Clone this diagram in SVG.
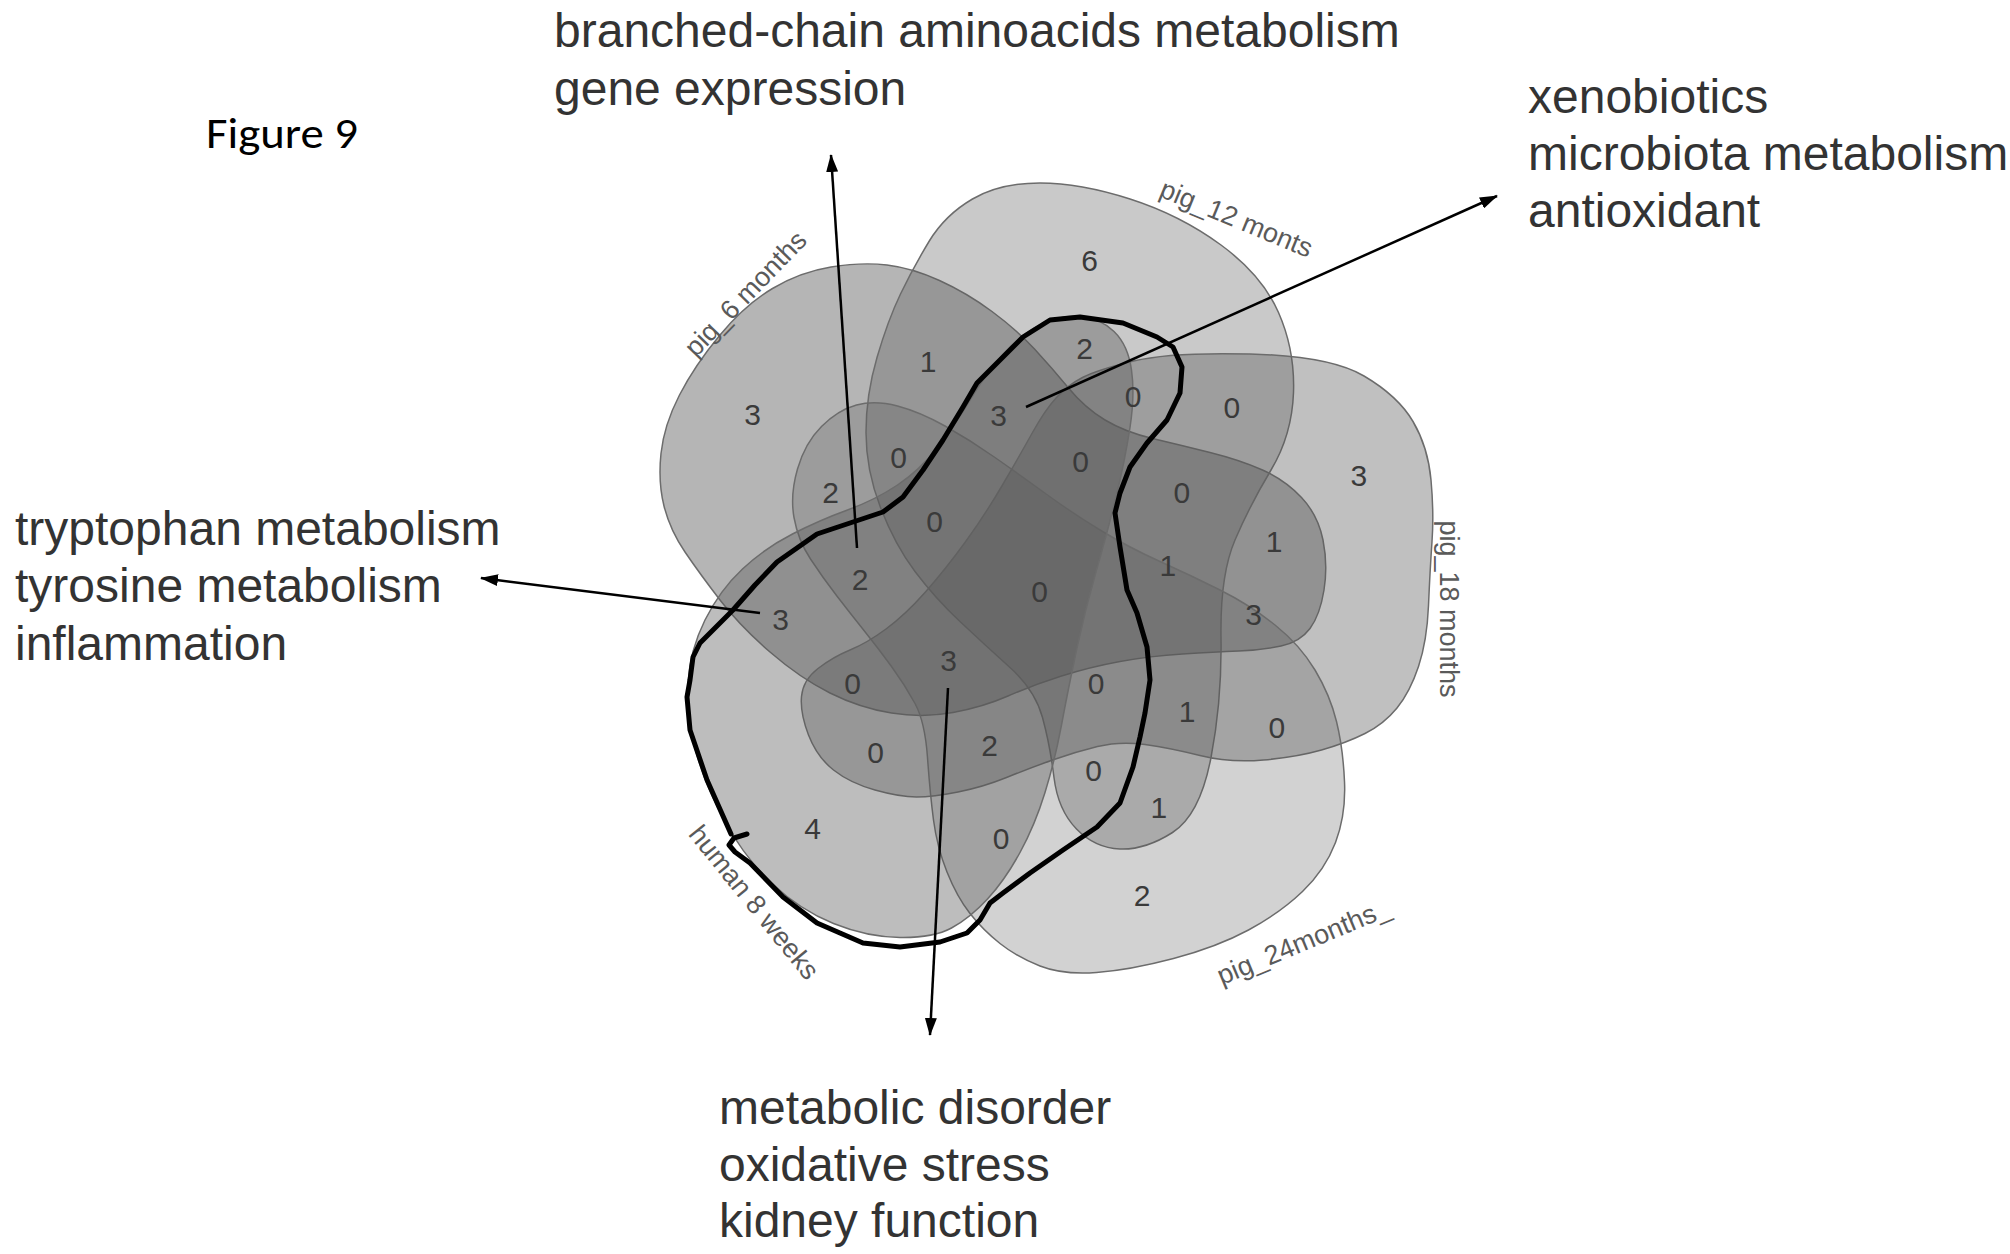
<svg xmlns="http://www.w3.org/2000/svg" width="2010" height="1254" viewBox="0 0 2010 1254">
<defs>
<style>
.set{fill:#5a5a5a;stroke:#6c6c6c;stroke-width:1.5}
.num{font-family:"Liberation Sans",Arial,sans-serif;font-size:30px;fill:#3a3a3a;text-anchor:middle}
.slab{font-family:"Liberation Sans",Arial,sans-serif;font-size:27px;fill:#5a5a5a;text-anchor:middle}
.big{font-family:"Liberation Sans",Arial,sans-serif;font-size:48px;fill:#333}
.conn{stroke:#000;stroke-width:2.5;fill:none;marker-end:url(#ah)}
</style>
<marker id="ah" markerUnits="userSpaceOnUse" markerWidth="18" markerHeight="12" viewBox="0 0 18 12" refX="17" refY="6" orient="auto"><path d="M0,0 L18,6 L0,12 z" fill="#000"/></marker>
</defs>
<rect width="2010" height="1254" fill="#fff"/>
<text x="206" y="148" font-family="Carlito,'Liberation Sans',Arial,sans-serif" font-size="44" fill="#000" textLength="152" lengthAdjust="spacingAndGlyphs">Figure 9</text>
<g id="venn-sets">
<g id="set-pig6"><path class="set" fill-opacity="0.45" d="M664,506 Q658,482 661,453.5 Q664,425 679.5,395 Q695,365 720,335 Q745,305 772.5,288.5 Q800,272 831,267 Q862,262 887,265 Q912,268 939.5,280.5 Q967,293 992,311.5 Q1017,330 1034.5,349 Q1052,368 1068.5,388 Q1085,408 1105,420 Q1125,432 1152.5,438.5 Q1180,445 1210,452.5 Q1240,460 1262.5,470 Q1285,480 1301.5,497.5 Q1318,515 1323,540 Q1328,565 1324,590 Q1320,615 1310,628.5 Q1300,642 1281,646 Q1262,650 1238.5,651 Q1215,652 1182.5,654 Q1150,656 1120,661.5 Q1090,667 1061.5,676 Q1033,685 1008,696 Q983,707 953,712.5 Q923,718 891.5,713 Q860,708 830,693 Q800,678 770,652 Q740,626 720,600 Q700,574 685,552 Q670,530 664,506 Z"/></g>
<g id="set-pig12"><path class="set" fill-opacity="0.33" d="M900.5,294 Q913,268 929,241.5 Q945,215 972.5,199 Q1000,183 1040,183 Q1080,183 1130,199 Q1180,215 1221,245 Q1262,275 1278.5,312.5 Q1295,350 1293.5,392.5 Q1292,435 1271,470 Q1250,505 1235,540 Q1220,575 1221,637.5 Q1222,700 1211,757.5 Q1200,815 1172.5,832.5 Q1145,850 1120,849 Q1095,848 1076.5,829 Q1058,810 1054,777.5 Q1050,745 1042.5,717.5 Q1035,690 1010,667.5 Q985,645 960,621.5 Q935,598 915,571.5 Q895,545 880.5,507.5 Q866,470 866,432.5 Q866,395 877,357.5 Q888,320 900.5,294 Z"/></g>
<g id="set-pig18"><path class="set" fill-opacity="0.38" d="M1082.5,377.5 Q1097,370 1133.5,361 Q1170,352 1250,354 Q1330,356 1364,376 Q1398,396 1413,421.5 Q1428,447 1431,480 Q1434,513 1432,541.5 Q1430,570 1428.5,605.5 Q1427,641 1418.5,666.5 Q1410,692 1397,708 Q1384,724 1365,733.5 Q1346,743 1321.5,750 Q1297,757 1263.5,760 Q1230,763 1200,755.5 Q1170,748 1145,744.5 Q1120,741 1097.5,746.5 Q1075,752 1052.5,760 Q1030,768 1006.5,777.5 Q983,787 958,792 Q933,797 916.5,797 Q900,797 875,790 Q850,783 833.5,770 Q817,757 808.5,735 Q800,713 801.5,696.5 Q803,680 818,668.5 Q833,657 850,650 Q867,643 886,629 Q905,615 925,592.5 Q945,570 965,542.5 Q985,515 1002.5,485 Q1020,455 1032.5,432.5 Q1045,410 1056.5,397.5 Q1068,385 1082.5,377.5 Z"/></g>
<g id="set-pig24"><path class="set" fill-opacity="0.27" d="M1336.5,721.5 Q1343,748 1344.5,781.5 Q1346,815 1335.5,842.5 Q1325,870 1302.5,891.5 Q1280,913 1248.5,930 Q1217,947 1173.5,958.5 Q1130,970 1096.5,972.5 Q1063,975 1040,966 Q1017,957 1000,943.5 Q983,930 970,913.5 Q957,897 947,872 Q937,847 933.5,820 Q930,793 927.5,757.5 Q925,722 915,703.5 Q905,685 891.5,666.5 Q878,648 864,630.5 Q850,613 836.5,595.5 Q823,578 810.5,559 Q798,540 794,517.5 Q790,495 797.5,469 Q805,443 821.5,426.5 Q838,410 856.5,405 Q875,400 897.5,406 Q920,412 945,426 Q970,440 995,457.5 Q1020,475 1047.5,495 Q1075,515 1102.5,531.5 Q1130,548 1160,561.5 Q1190,575 1220,590 Q1250,605 1275,625 Q1300,645 1315,670 Q1330,695 1336.5,721.5 Z"/></g>
<g id="set-human8"><path class="set" fill-opacity="0.4" d="M705,620 Q690,650 688,682.5 Q686,715 695.5,750 Q705,785 725,821.5 Q745,858 772.5,884 Q800,910 833.5,923.5 Q867,937 900,937.5 Q933,938 951.5,928 Q970,918 987.5,899 Q1005,880 1020,852.5 Q1035,825 1045,792.5 Q1055,760 1061.5,725 Q1068,690 1076.5,650 Q1085,610 1096.5,570 Q1108,530 1116.5,495 Q1125,460 1130,427.5 Q1135,395 1131.5,370 Q1128,345 1114,331.5 Q1100,318 1080,316.5 Q1060,315 1040,325 Q1020,335 1002.5,355 Q985,375 970,400 Q955,425 937.5,447.5 Q920,470 897.5,485 Q875,500 847.5,510 Q820,520 792.5,534 Q765,548 742.5,569 Q720,590 705,620 Z"/></g>
</g>
<g id="set-labels">
<text class="slab" transform="translate(752,300) rotate(-46)">pig_6 months</text>
<text class="slab" transform="translate(1233,227) rotate(22.4)">pig_12 monts</text>
<text class="slab" transform="translate(1440,609) rotate(90)">pig_18 months</text>
<text class="slab" transform="translate(1307,950) rotate(-22.5)">pig_24months_</text>
<text class="slab" transform="translate(747,908) rotate(51)">human 8 weeks</text>
</g>
<g id="counts">
<text class="num" x="752.5" y="424.7">3</text>
<text class="num" x="1089.6" y="270.9">6</text>
<text class="num" x="1358.8" y="486.3">3</text>
<text class="num" x="1142.2" y="905.5">2</text>
<text class="num" x="812.7" y="838.8">4</text>
<text class="num" x="928.1" y="372.2">1</text>
<text class="num" x="1084.5" y="359.4">2</text>
<text class="num" x="1133.2" y="406.8">0</text>
<text class="num" x="1231.9" y="418.3">0</text>
<text class="num" x="998.6" y="426">3</text>
<text class="num" x="898.6" y="468.3">0</text>
<text class="num" x="830.7" y="502.9">2</text>
<text class="num" x="1080.7" y="472.2">0</text>
<text class="num" x="1181.9" y="502.9">0</text>
<text class="num" x="934.5" y="532.4">0</text>
<text class="num" x="1274.2" y="551.7">1</text>
<text class="num" x="1167.8" y="576">1</text>
<text class="num" x="860.2" y="590.1">2</text>
<text class="num" x="1039.6" y="601.7">0</text>
<text class="num" x="780.7" y="629.9">3</text>
<text class="num" x="1253.7" y="624.7">3</text>
<text class="num" x="948.6" y="670.9">3</text>
<text class="num" x="852.5" y="694">0</text>
<text class="num" x="1096" y="694">0</text>
<text class="num" x="1187" y="722.2">1</text>
<text class="num" x="1276.8" y="737.5">0</text>
<text class="num" x="875.5" y="763.2">0</text>
<text class="num" x="989.6" y="755.5">2</text>
<text class="num" x="1093.5" y="781.1">0</text>
<text class="num" x="1158.8" y="818.3">1</text>
<text class="num" x="1001.2" y="849.1">0</text>
</g>
<g id="highlight">
<path fill="none" stroke="#000" stroke-width="5" stroke-linejoin="round" stroke-linecap="round" d="M731,834 L707,780 L690,730 L687,697 L690,680 L693,657 L700,643 L733,610 L755,585 L777,562 L797,548 L817,534 L850,523 L883,512 L903,497 L923,470 L943,440 L963,407 L977,383 L1000,360 L1023,337 L1050,320 L1080,317 L1123,323 L1157,337 L1173,347 L1182,367 L1180,393 L1167,420 L1147,443 L1130,467 L1120,493 L1115,513 L1120,547 L1127,590 L1137,613 L1147,647 L1150,680 L1145,713 L1140,737 L1133,767 L1120,803 L1097,827 L1063,850 L1030,873 L1003,893 L990,903 L980,920 L967,933 L940,942 L900,947 L863,943 L817,923 L783,897 L750,863 L735,852 L729,845 L734,838 L747,834"/>
</g>
<g id="connectors">
<line class="conn" x1="857" y1="548" x2="831" y2="155"/>
<line class="conn" x1="1026" y1="407" x2="1497" y2="196"/>
<line class="conn" x1="760" y1="613" x2="481" y2="578"/>
<line class="conn" x1="948" y1="688" x2="930" y2="1035"/>
</g>
<g id="annotations">
<text class="big" x="554" y="47">branched-chain aminoacids metabolism</text>
<text class="big" x="554" y="105">gene expression</text>
<text class="big" x="1528" y="113">xenobiotics</text>
<text class="big" x="1528" y="170">microbiota metabolism</text>
<text class="big" x="1528" y="227">antioxidant</text>
<text class="big" x="15" y="545">tryptophan metabolism</text>
<text class="big" x="15" y="602">tyrosine metabolism</text>
<text class="big" x="15" y="660">inflammation</text>
<text class="big" x="719" y="1124">metabolic disorder</text>
<text class="big" x="719" y="1181">oxidative stress</text>
<text class="big" x="719" y="1237">kidney function</text>
</g>
</svg>
